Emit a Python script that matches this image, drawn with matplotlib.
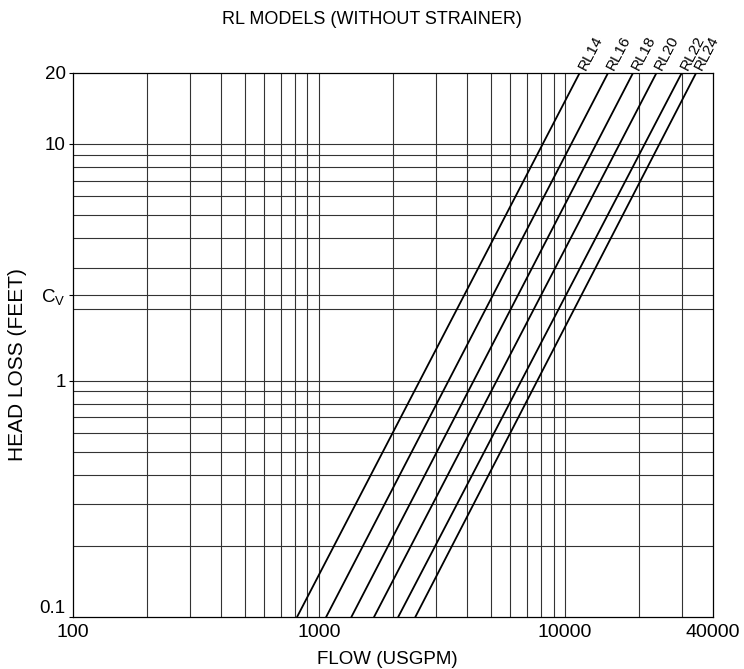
import matplotlib
matplotlib.use("Agg")
import matplotlib.pyplot as plt

plt.rcParams['font.family'] = ['Liberation Sans', 'DejaVu Sans']
plt.rcParams['mathtext.fontset'] = 'custom'
plt.rcParams['mathtext.rm'] = 'Liberation Sans'
plt.rcParams['mathtext.it'] = 'Liberation Sans:italic'

# 型号及其曲线端点
models = ['RL14', 'RL16', 'RL18', 'RL20', 'RL22', 'RL24']
head_ends = [0.1, 20]                                   # ft
flow_low = [815, 1070, 1355, 1675, 2100, 2465]          # USGPM @ 0.1 ft
flow_high = [11500, 15000, 18950, 23600, 29900, 34200]  # USGPM @ 20 ft

# 网格
x_grid = [200, 300, 400, 500, 600, 700, 800, 900,
          1000, 2000, 3000, 4000, 5000, 6000, 7000, 8000, 9000,
          10000, 20000, 30000]
y_grid = [0.2, 0.3, 0.4, 0.5, 0.6, 0.7, 0.8, 0.9,
          1, 2, 3, 4, 5, 6, 7, 8, 9, 10]
cv_head = 2.31

x_ticks = [100, 1000, 10000, 40000]
x_labels = ['100', '1000', '10000', '40000']
y_ticks = [0.1, 1, cv_head, 10, 20]
y_labels = ['0.1', '1', r'C$_\mathrm{V}$', '10', '20']

fig = plt.figure(figsize=(7.44, 6.69), dpi=100)
ax = fig.add_axes([0.0977, 0.0773, 0.8606, 0.814])
ax.set_xscale('log')
ax.set_yscale('log')
ax.set_xlim(100, 40000)
ax.set_ylim(0.1, 20)

for x in x_grid:
    ax.axvline(x, color='#333333', linewidth=0.8, zorder=1)
for y in y_grid + [cv_head]:
    ax.axhline(y, color='#333333', linewidth=0.8, zorder=1)

for name, q0, q1 in zip(models, flow_low, flow_high):
    ax.plot([q0, q1], head_ends, color='black', linewidth=1.3, zorder=3,
            solid_capstyle='butt')
    ax.annotate(name, xy=(q1, head_ends[1]), xytext=(1.5, 2.5),
                textcoords='offset points', rotation=62.5,
                rotation_mode='anchor', ha='left', va='center',
                fontsize=11, annotation_clip=False)

ax.minorticks_off()
ax.set_xticks(x_ticks)
ax.set_xticklabels(x_labels)
ax.set_yticks(y_ticks)
ax.set_yticklabels(y_labels)
ax.tick_params(axis='x', length=0, pad=5, labelsize=14)
ax.tick_params(axis='y', length=3, width=0.8, pad=2, labelsize=13.5)
# 0.1 的标签抬到线上方，避免和 100 挤在一起
ax.get_yticklabels()[0].set_va('bottom')

for s in ax.spines.values():
    s.set_linewidth(0.9)
    s.set_color('black')

fig.text(0.5, 1 - 20 / 669, 'RL MODELS (WITHOUT STRAINER)',
         ha='center', va='center', fontsize=13)
fig.text(0.52, 1 - 660 / 669, 'FLOW (USGPM)', ha='center', va='center',
         fontsize=13.5)
fig.text(18 / 744, 1 - 365 / 669, 'HEAD LOSS (FEET)', ha='center',
         va='center', rotation=90, fontsize=15)

fig.savefig('out.png', dpi=100)
